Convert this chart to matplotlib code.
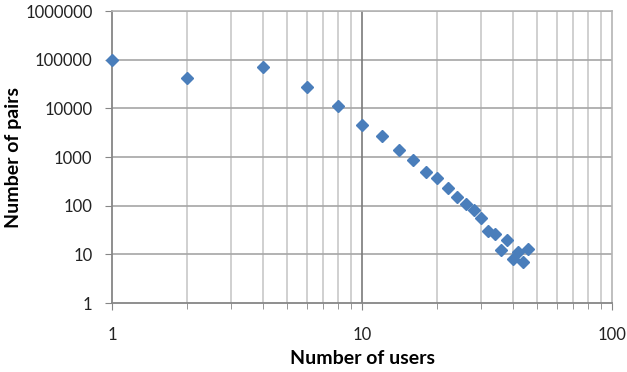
import matplotlib
matplotlib.use("Agg")
import matplotlib.pyplot as plt
from matplotlib.ticker import FixedLocator, NullFormatter, FuncFormatter

# Number of users sharing a pair, and how many pairs have that many users
users = [1, 2, 4, 6, 8, 10, 12, 14, 16, 18, 20, 22, 24, 26, 28, 30, 32, 34, 36, 38, 40, 42, 44, 46]
pairs = [100000, 43000, 70000, 28000, 11000, 4600, 2700, 1400, 870, 490, 365, 230,
         150, 108, 80, 55, 30, 26, 12, 20, 8, 11, 7, 13]

x_ticks = [1, 10, 100]
y_ticks = [1, 10, 100, 1000, 10000, 100000, 1000000]

plt.rcParams["font.family"] = ["Lato", "DejaVu Sans"]

fig = plt.figure(figsize=(6.27, 3.72), dpi=100)
ax = fig.add_axes([112 / 627, 1 - 303 / 372, 500 / 627, 292 / 372])

ax.set_xscale("log")
ax.set_yscale("log")
ax.set_xlim(1, 100)
ax.set_ylim(1, 1000000)

# gridlines: light minor verticals, darker major verticals, mid-grey horizontals
minor_x = [m * d for d in (1, 10) for m in range(2, 10)]
for v in minor_x:
    ax.axvline(v, color="#c8c8c8", lw=1.2, zorder=0.5)
ax.axvline(10, color="#7a7a7a", lw=1.2, zorder=0.6)
for h in y_ticks[1:]:
    ax.axhline(h, color="#a6a6a6", lw=1.2, zorder=0.5)

ax.plot(users, pairs, linestyle="none", marker="D", markersize=6.5,
        color="#4a7ebb", markeredgecolor="#4a7ebb", zorder=3, clip_on=False)

ax.xaxis.set_major_locator(FixedLocator(x_ticks))
ax.xaxis.set_minor_locator(FixedLocator(minor_x))
ax.xaxis.set_minor_formatter(NullFormatter())
ax.yaxis.set_major_locator(FixedLocator(y_ticks))
ax.yaxis.set_minor_locator(FixedLocator([]))
fmt = FuncFormatter(lambda v, p: f"{int(round(v))}")
ax.xaxis.set_major_formatter(fmt)
ax.yaxis.set_major_formatter(fmt)

for side in ("left", "bottom"):
    ax.spines[side].set_color("#868686")
    ax.spines[side].set_linewidth(1.3)
for side in ("top", "right"):
    ax.spines[side].set_color("#b4b4b4")
    ax.spines[side].set_linewidth(1.2)

ax.tick_params(axis="both", which="both", direction="out", color="#868686",
               labelsize=12, labelcolor="#222222")
ax.tick_params(axis="x", which="major", length=5, pad=12)
ax.tick_params(axis="x", which="minor", length=4)
ax.tick_params(axis="y", which="major", length=5, pad=9)

ax.set_xlabel("Number of users", fontsize=14, fontweight="bold", labelpad=5)
ax.set_ylabel("Number of pairs", fontsize=14, fontweight="bold", labelpad=2)

fig.savefig("out.png", dpi=100)
